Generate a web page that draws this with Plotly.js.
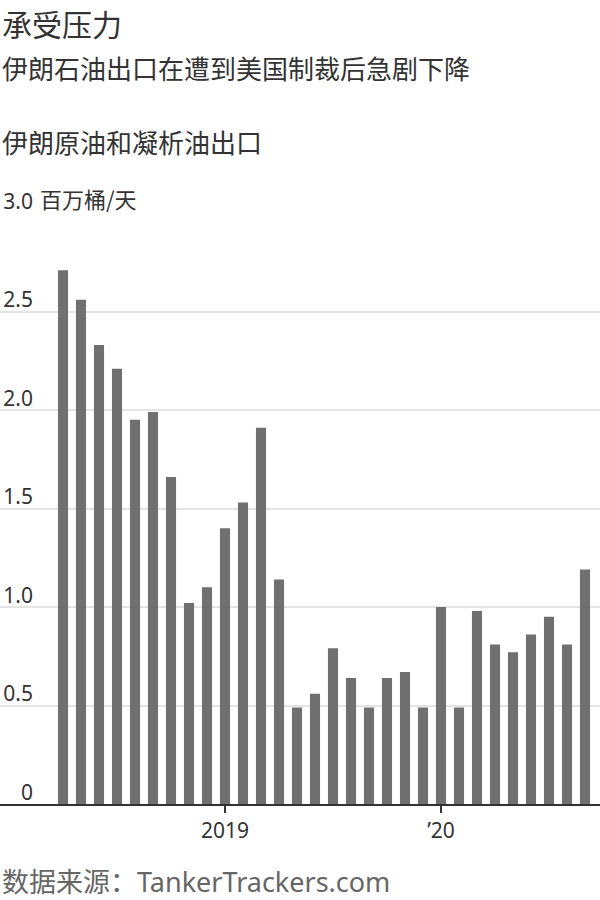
<!DOCTYPE html>
<html>
<head>
<meta charset="utf-8">
<script src="https://cdn.plot.ly/plotly-3.0.1.min.js"></script>
<style>
html,body{margin:0;padding:0;background:#fff;}
#chart{width:600px;height:900px;}
</style>
</head>
<body>
<div id="chart"></div>
<script>
// Months (April 2018 – September 2020)
const months = [
  "2018-04","2018-05","2018-06","2018-07","2018-08","2018-09","2018-10","2018-11","2018-12",
  "2019-01","2019-02","2019-03","2019-04","2019-05","2019-06","2019-07","2019-08","2019-09",
  "2019-10","2019-11","2019-12",
  "2020-01","2020-02","2020-03","2020-04","2020-05","2020-06","2020-07","2020-08","2020-09"
];
// Iran crude & condensate exports, million barrels/day
const exportsMbd = [
  2.71, 2.56, 2.33, 2.21, 1.95, 1.99, 1.66, 1.02, 1.10,
  1.40, 1.53, 1.91, 1.14, 0.49, 0.56, 0.79, 0.64, 0.49,
  0.64, 0.67, 0.49,
  1.00, 0.49, 0.98, 0.81, 0.77, 0.86, 0.95, 0.81, 1.19
];
const xTickVals = ["2019-01", "2020-01"];
const xTickText = ["2019", "\u201920"];
const yTickVals = [0, 0.5, 1.0, 1.5, 2.0, 2.5, 3.0];
const yTickText = ["0", "0.5", "1.0", "1.5", "2.0", "2.5", "3.0"];
const unitLabel = "百万桶/天";
const titleText = "承受压力";
const subtitleText = "伊朗石油出口在遭到美国制裁后急剧下降";
const chartTitleText = "伊朗原油和凝析油出口";
const sourceText = "数据来源：TankerTrackers.com";

const cjk = "'Noto Sans CJK SC', 'Noto Sans', sans-serif";
const latinCjk = "'Noto Sans', 'Noto Sans CJK SC', sans-serif";
const tickFont = "'Noto Sans', sans-serif";

const trace = {
  type: "bar",
  x: months,
  y: exportsMbd,
  marker: {color: "#707070"},
  hoverinfo: "x+y"
};

const FIG_H = 900, M_TOP = 213, M_BOT = 96;
const plotH = FIG_H - M_TOP - M_BOT;
const py = (pix) => (FIG_H - M_BOT - pix) / plotH;

const layout = {
  width: 600,
  height: 900,
  margin: {l: 0, r: 0, t: M_TOP, b: M_BOT, pad: 0},
  paper_bgcolor: "#fff",
  plot_bgcolor: "#fff",
  showlegend: false,
  bargap: 0.44,
  xaxis: {
    type: "category",
    range: [-3.5, 29.833],
    tickmode: "array",
    tickvals: xTickVals,
    ticktext: xTickText,
    ticks: "outside",
    ticklen: 7,
    tickwidth: 2,
    tickcolor: "#333",
    showline: true,
    linecolor: "#333",
    linewidth: 2,
    showgrid: false,
    zeroline: false,
    tickfont: {family: tickFont, size: 21, color: "#333"},
    fixedrange: true
  },
  yaxis: {
    range: [0, 3.0],
    tickmode: "array",
    tickvals: yTickVals,
    ticktext: yTickText,
    anchor: "free",
    position: 0.055,
    ticklabelposition: "outside top",
    ticklabelshift: 3,
    ticks: "",
    showline: false,
    showgrid: true,
    gridcolor: "#e4e4e4",
    gridwidth: 2,
    zeroline: false,
    tickfont: {family: tickFont, size: 21, color: "#333"},
    fixedrange: true
  },
  annotations: [
    {text: titleText, xref: "paper", yref: "paper", x: 0, y: py(23), xanchor: "left", yanchor: "middle",
     showarrow: false, font: {family: cjk, size: 30, color: "#333"}},
    {text: subtitleText, xref: "paper", yref: "paper", x: 0, y: py(67), xanchor: "left", yanchor: "middle",
     showarrow: false, font: {family: cjk, size: 26, color: "#333"}},
    {text: chartTitleText, xref: "paper", yref: "paper", x: 0, y: py(141), xanchor: "left", yanchor: "middle",
     showarrow: false, font: {family: cjk, size: 26, color: "#333"}},
    {text: unitLabel, xref: "paper", yref: "paper", x: 38 / 600, y: py(198), xanchor: "left", yanchor: "middle",
     showarrow: false, font: {family: cjk, size: 22, color: "#333"}},
    {text: sourceText, xref: "paper", yref: "paper", x: 0, y: py(881), xanchor: "left", yanchor: "middle",
     showarrow: false, font: {family: latinCjk, size: 27, color: "#666"}}
  ]
};

Plotly.newPlot("chart", [trace], layout, {displayModeBar: false, staticPlot: true});
</script>
</body>
</html>
